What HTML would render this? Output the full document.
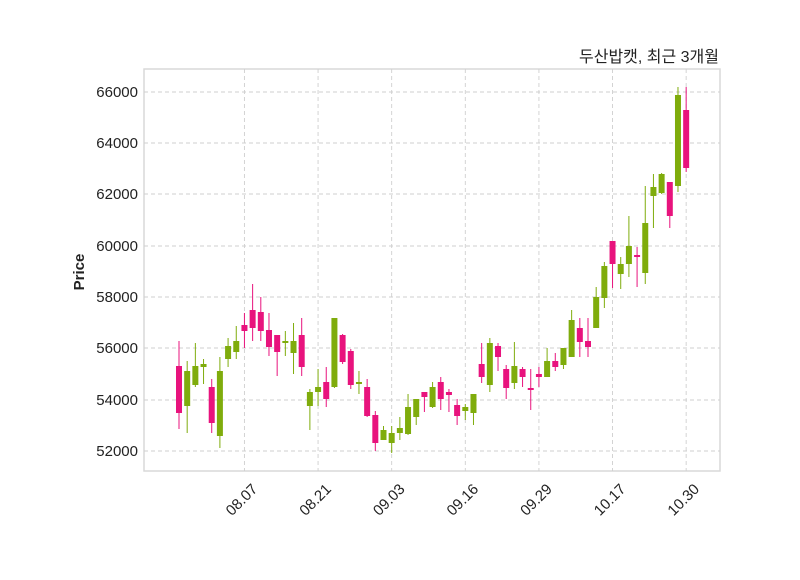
<!DOCTYPE html>
<html><head><meta charset="utf-8"><style>
body{margin:0;background:#fff;width:800px;height:575px;overflow:hidden}
text{font-family:"Liberation Sans","DejaVu Sans",sans-serif}
</style></head><body>
<svg id="s" width="800" height="575" xmlns="http://www.w3.org/2000/svg">
<rect x="144" y="69" width="576" height="402" fill="#fff" stroke="#d9d9d9" stroke-width="1.5"/>
<g id="grid" stroke="#cfcfcf" stroke-dasharray="4,3" stroke-width="0.9"></g>
<g id="c"></g>
<g font-size="15" fill="#222" text-anchor="end" id="yl"></g>
<g font-size="15" fill="#222" id="xl"></g>
<text x="84" y="272" font-size="15" font-weight="bold" fill="#222" text-anchor="middle" transform="rotate(-90 84 272)">Price</text>
<text x="719" y="62" font-size="16" fill="#222" text-anchor="end" style='font-family:"Liberation Sans","Noto Sans CJK KR",sans-serif'>두산밥캣, 최근 3개월</text>
</svg>
<script>
var NS="http://www.w3.org/2000/svg";
function el(p,t,a,txt){var e=document.createElementNS(NS,t);for(var k in a)e.setAttribute(k,a[k]);if(txt)e.textContent=txt;document.getElementById(p).appendChild(e);}
var ys=[[52000,451],[54000,400],[56000,348],[58000,297],[60000,246],[62000,194],[64000,143],[66000,92]];
ys.forEach(function(v){el("grid","line",{x1:144,x2:720,y1:v[1],y2:v[1]});el("yl","text",{x:138,y:v[1]+5},String(v[0]));});
var X=function(i){return 179+i*8.18;};
var labs=["08.07","08.21","09.03","09.16","09.29","10.17","10.30"];
labs.forEach(function(l,k){var x=X(8+9*k);el("grid","line",{x1:x,x2:x,y1:69,y2:471});
var ax=x+14,ay=490;
el("xl","text",{x:ax,y:ay,"text-anchor":"end",transform:"rotate(-45 "+ax+" "+ay+")"},l);});
var G="#7fac0c",P="#e8137d";
var d=[[341,429,366,413,P],[361,433,371,406,G],[343,387,366,385,G],[359,384,364,367,G],[379,433,387,423,P],[357,448,371,436,G],[338,367,346,359,G],[326,359,341,352,G],[313,348,325,331,P],[284,341,310,328,P],[297,341,312,331,P],[313,356,330,347,P],[335,376,335,352,P],[331,356,341,343,G],[323,374,341,353,G],[318,376,335,367,P],[389,430,392,406,G],[369,406,387,392,G],[367,407,382,399,P],[318,388,318,387,G],[334,364,335,362,P],[349,389,351,385,P],[371,394,382,384,G],[379,417,387,416,P],[411,451,415,443,P],[426,440,430,440,G],[426,453,433,443,G],[417,440,428,433,G],[394,435,407,434,G],[399,425,399,417,G],[392,412,392,397,P],[382,408,387,407,G],[377,410,382,399,P],[389,412,392,395,P],[399,425,405,416,P],[404,420,407,411,G],[394,425,394,413,G],[343,383,364,377,P],[338,392,343,385,G],[343,371,346,357,P],[365,399,369,388,P],[342,389,366,383,G],[367,387,369,377,P],[369,410,388,390,P],[367,387,374,377,P],[348,377,361,377,G],[353,371,361,367,P],[348,369,348,365,G],[310,357,320,357,G],[318,357,328,342,P],[318,357,341,347,P],[287,328,297,328,G],[262,308,266,298,G],[241,288,241,264,P],[257,289,264,274,G],[216,277,246,264,G],[247,287,255,257,P],[186,284,223,273,G],[174,228,187,196,G],[173,194,174,193,G],[182,228,182,216,P],[87,192,95,186,G],[87,172,110,168,P]];
d.forEach(function(c,i){var x=X(i);
el("c","line",{x1:x,x2:x,y1:c[0],y2:c[1],stroke:c[4],"stroke-width":1});
var h=Math.max(c[3]-c[2],1.5);
el("c","rect",{x:x-3,y:c[2],width:6,height:h,fill:c[4]});});
</script>
</body></html>
